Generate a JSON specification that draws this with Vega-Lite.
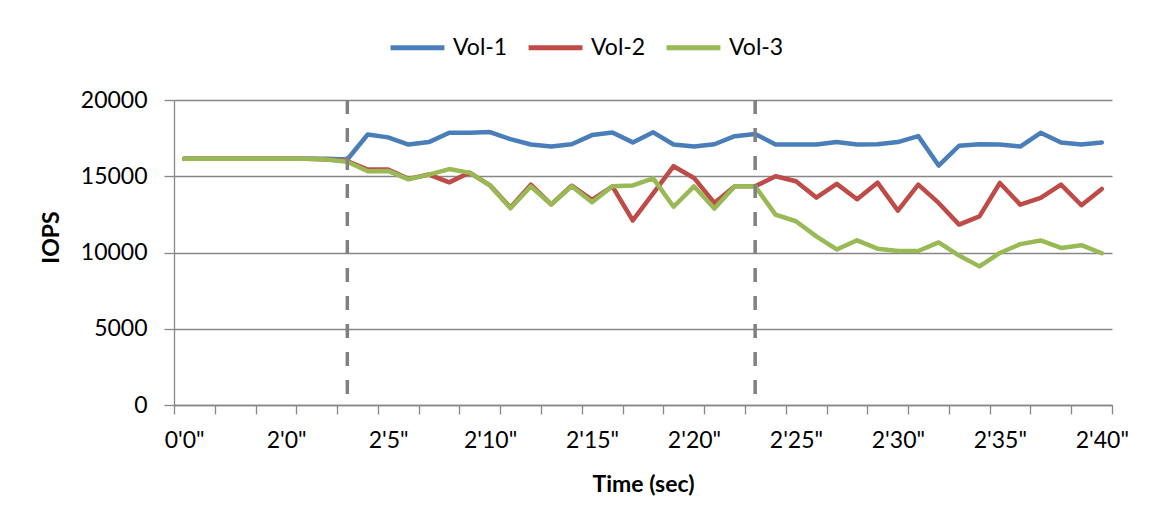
{
  "$schema": "https://vega.github.io/schema/vega-lite/v6.json",
  "width": 938,
  "height": 305,
  "autosize": "none",
  "padding": {"left": 174, "top": 100, "right": 43, "bottom": 122},
  "background": "white",
  "config": {
    "font": "Lato",
    "view": {"stroke": null},
    "axis": {"labelFont": "Lato", "titleFont": "Lato", "labelColor": "#000", "titleColor": "#000", "labelFontSize": 23, "titleFontSize": 23, "titleFontWeight": "bold", "labelOverlap": false}
  },
  "resolve": {"axis": {"x": "independent"}},
  "layer": [
    {
      "data": {
        "values": [
          {"t": 0, "Vol-1": 16150, "Vol-2": 16150, "Vol-3": 16150},
          {"t": 1, "Vol-1": 16150, "Vol-2": 16150, "Vol-3": 16150},
          {"t": 2, "Vol-1": 16150, "Vol-2": 16150, "Vol-3": 16150},
          {"t": 3, "Vol-1": 16150, "Vol-2": 16150, "Vol-3": 16150},
          {"t": 4, "Vol-1": 16150, "Vol-2": 16150, "Vol-3": 16150},
          {"t": 5, "Vol-1": 16150, "Vol-2": 16150, "Vol-3": 16150},
          {"t": 6, "Vol-1": 16150, "Vol-2": 16150, "Vol-3": 16150},
          {"t": 7, "Vol-1": 16150, "Vol-2": 16100, "Vol-3": 16100},
          {"t": 8, "Vol-1": 16100, "Vol-2": 16000, "Vol-3": 15950},
          {"t": 9, "Vol-1": 17740, "Vol-2": 15440, "Vol-3": 15330},
          {"t": 10, "Vol-1": 17550, "Vol-2": 15440, "Vol-3": 15350},
          {"t": 11, "Vol-1": 17080, "Vol-2": 14830, "Vol-3": 14800},
          {"t": 12, "Vol-1": 17240, "Vol-2": 15110, "Vol-3": 15110},
          {"t": 13, "Vol-1": 17850, "Vol-2": 14600, "Vol-3": 15470},
          {"t": 14, "Vol-1": 17850, "Vol-2": 15240, "Vol-3": 15220},
          {"t": 15, "Vol-1": 17900, "Vol-2": 14400, "Vol-3": 14400},
          {"t": 16, "Vol-1": 17430, "Vol-2": 12950, "Vol-3": 12900},
          {"t": 17, "Vol-1": 17080, "Vol-2": 14450, "Vol-3": 14330},
          {"t": 18, "Vol-1": 16950, "Vol-2": 13150, "Vol-3": 13150},
          {"t": 19, "Vol-1": 17100, "Vol-2": 14380, "Vol-3": 14340},
          {"t": 20, "Vol-1": 17700, "Vol-2": 13450, "Vol-3": 13300},
          {"t": 21, "Vol-1": 17870, "Vol-2": 14340, "Vol-3": 14340},
          {"t": 22, "Vol-1": 17220, "Vol-2": 12100, "Vol-3": 14400},
          {"t": 23, "Vol-1": 17880, "Vol-2": 13880, "Vol-3": 14860},
          {"t": 24, "Vol-1": 17080, "Vol-2": 15660, "Vol-3": 13000},
          {"t": 25, "Vol-1": 16950, "Vol-2": 14890, "Vol-3": 14340},
          {"t": 26, "Vol-1": 17100, "Vol-2": 13250, "Vol-3": 12880},
          {"t": 27, "Vol-1": 17630, "Vol-2": 14340, "Vol-3": 14340},
          {"t": 28, "Vol-1": 17770, "Vol-2": 14340, "Vol-3": 14340},
          {"t": 29, "Vol-1": 17080, "Vol-2": 15000, "Vol-3": 12480},
          {"t": 30, "Vol-1": 17080, "Vol-2": 14670, "Vol-3": 12050},
          {"t": 31, "Vol-1": 17080, "Vol-2": 13600, "Vol-3": 11060},
          {"t": 32, "Vol-1": 17240, "Vol-2": 14500, "Vol-3": 10200},
          {"t": 33, "Vol-1": 17080, "Vol-2": 13490, "Vol-3": 10800},
          {"t": 34, "Vol-1": 17100, "Vol-2": 14580, "Vol-3": 10250},
          {"t": 35, "Vol-1": 17240, "Vol-2": 12750, "Vol-3": 10100},
          {"t": 36, "Vol-1": 17630, "Vol-2": 14450, "Vol-3": 10100},
          {"t": 37, "Vol-1": 15700, "Vol-2": 13250, "Vol-3": 10660},
          {"t": 38, "Vol-1": 17000, "Vol-2": 11830, "Vol-3": 9800},
          {"t": 39, "Vol-1": 17100, "Vol-2": 12370, "Vol-3": 9090},
          {"t": 40, "Vol-1": 17080, "Vol-2": 14560, "Vol-3": 9970},
          {"t": 41, "Vol-1": 16950, "Vol-2": 13140, "Vol-3": 10550},
          {"t": 42, "Vol-1": 17850, "Vol-2": 13580, "Vol-3": 10790},
          {"t": 43, "Vol-1": 17210, "Vol-2": 14450, "Vol-3": 10300},
          {"t": 44, "Vol-1": 17080, "Vol-2": 13100, "Vol-3": 10480},
          {"t": 45, "Vol-1": 17220, "Vol-2": 14170, "Vol-3": 9950}
        ]
      },
      "transform": [{"fold": ["Vol-1", "Vol-2", "Vol-3"], "as": ["series", "iops"]}],
      "mark": {"type": "line", "strokeWidth": 4.5, "strokeJoin": "round", "strokeCap": "round"},
      "encoding": {
        "x": {
          "field": "t",
          "type": "quantitative",
          "scale": {"domain": [-0.5, 45.5], "nice": false, "zero": false},
          "axis": {
            "orient": "bottom",
            "title": null,
            "values": [-0.5, 1.5, 3.5, 5.5, 7.5, 9.5, 11.5, 13.5, 15.5, 17.5, 19.5, 21.5, 23.5, 25.5, 27.5, 29.5, 31.5, 33.5, 35.5, 37.5, 39.5, 41.5, 43.5, 45.5],
            "labels": false,
            "tickSize": 9,
            "tickColor": "#878787",
            "tickWidth": 1.3,
            "domainColor": "#878787",
            "domainWidth": 1.3,
            "grid": false
          }
        },
        "y": {
          "field": "iops",
          "type": "quantitative",
          "scale": {"domain": [0, 20000], "nice": false},
          "axis": {
            "title": "IOPS",
            "titleX": -123,
            "titleY": 137,
            "titleBaseline": "middle",
            "values": [0, 5000, 10000, 15000, 20000],
            "format": "d",
            "grid": true,
            "gridColor": "#878787",
            "gridWidth": 1.3,
            "tickSize": 10,
            "tickColor": "#878787",
            "tickWidth": 1.3,
            "domainColor": "#878787",
            "domainWidth": 1.3,
            "labelPadding": 17
          }
        },
        "color": {
          "field": "series",
          "type": "nominal",
          "scale": {"domain": ["Vol-1", "Vol-2", "Vol-3"], "range": ["#4A7EBB", "#BE4B48", "#98B954"]},
          "legend": {
            "title": null,
            "orient": "none",
            "legendX": 214,
            "legendY": -82,
            "direction": "horizontal",
            "symbolType": "stroke",
            "symbolSize": 2900,
            "symbolStrokeWidth": 5,
            "labelFont": "Lato",
            "labelFontSize": 23,
            "labelColor": "#000",
            "labelOffset": 6,
            "columnPadding": 10,
            "padding": 0
          }
        }
      }
    },
    {
      "data": {"values": [{"t": 8}, {"t": 28}]},
      "mark": {"type": "rule", "color": "#808080", "strokeWidth": 3.5, "strokeDash": [14, 14]},
      "encoding": {
        "x": {
          "field": "t",
          "type": "quantitative",
          "axis": {
            "orient": "bottom",
            "title": "Time (sec)",
            "titleY": 79,
            "titleBaseline": "middle",
            "values": [0, 5, 10, 15, 20, 25, 30, 35, 40, 45],
            "labelExpr": "datum.value === 0 ? '0\\'0\"' : '2\\'' + (datum.value - 5) + '\"'",
            "ticks": false,
            "tickSize": 0,
            "domain": false,
            "grid": false,
            "labelPadding": 24,
            "labelOverlap": false,
            "labelFlush": false,
            "labelBound": false
          }
        }
      }
    }
  ]
}
